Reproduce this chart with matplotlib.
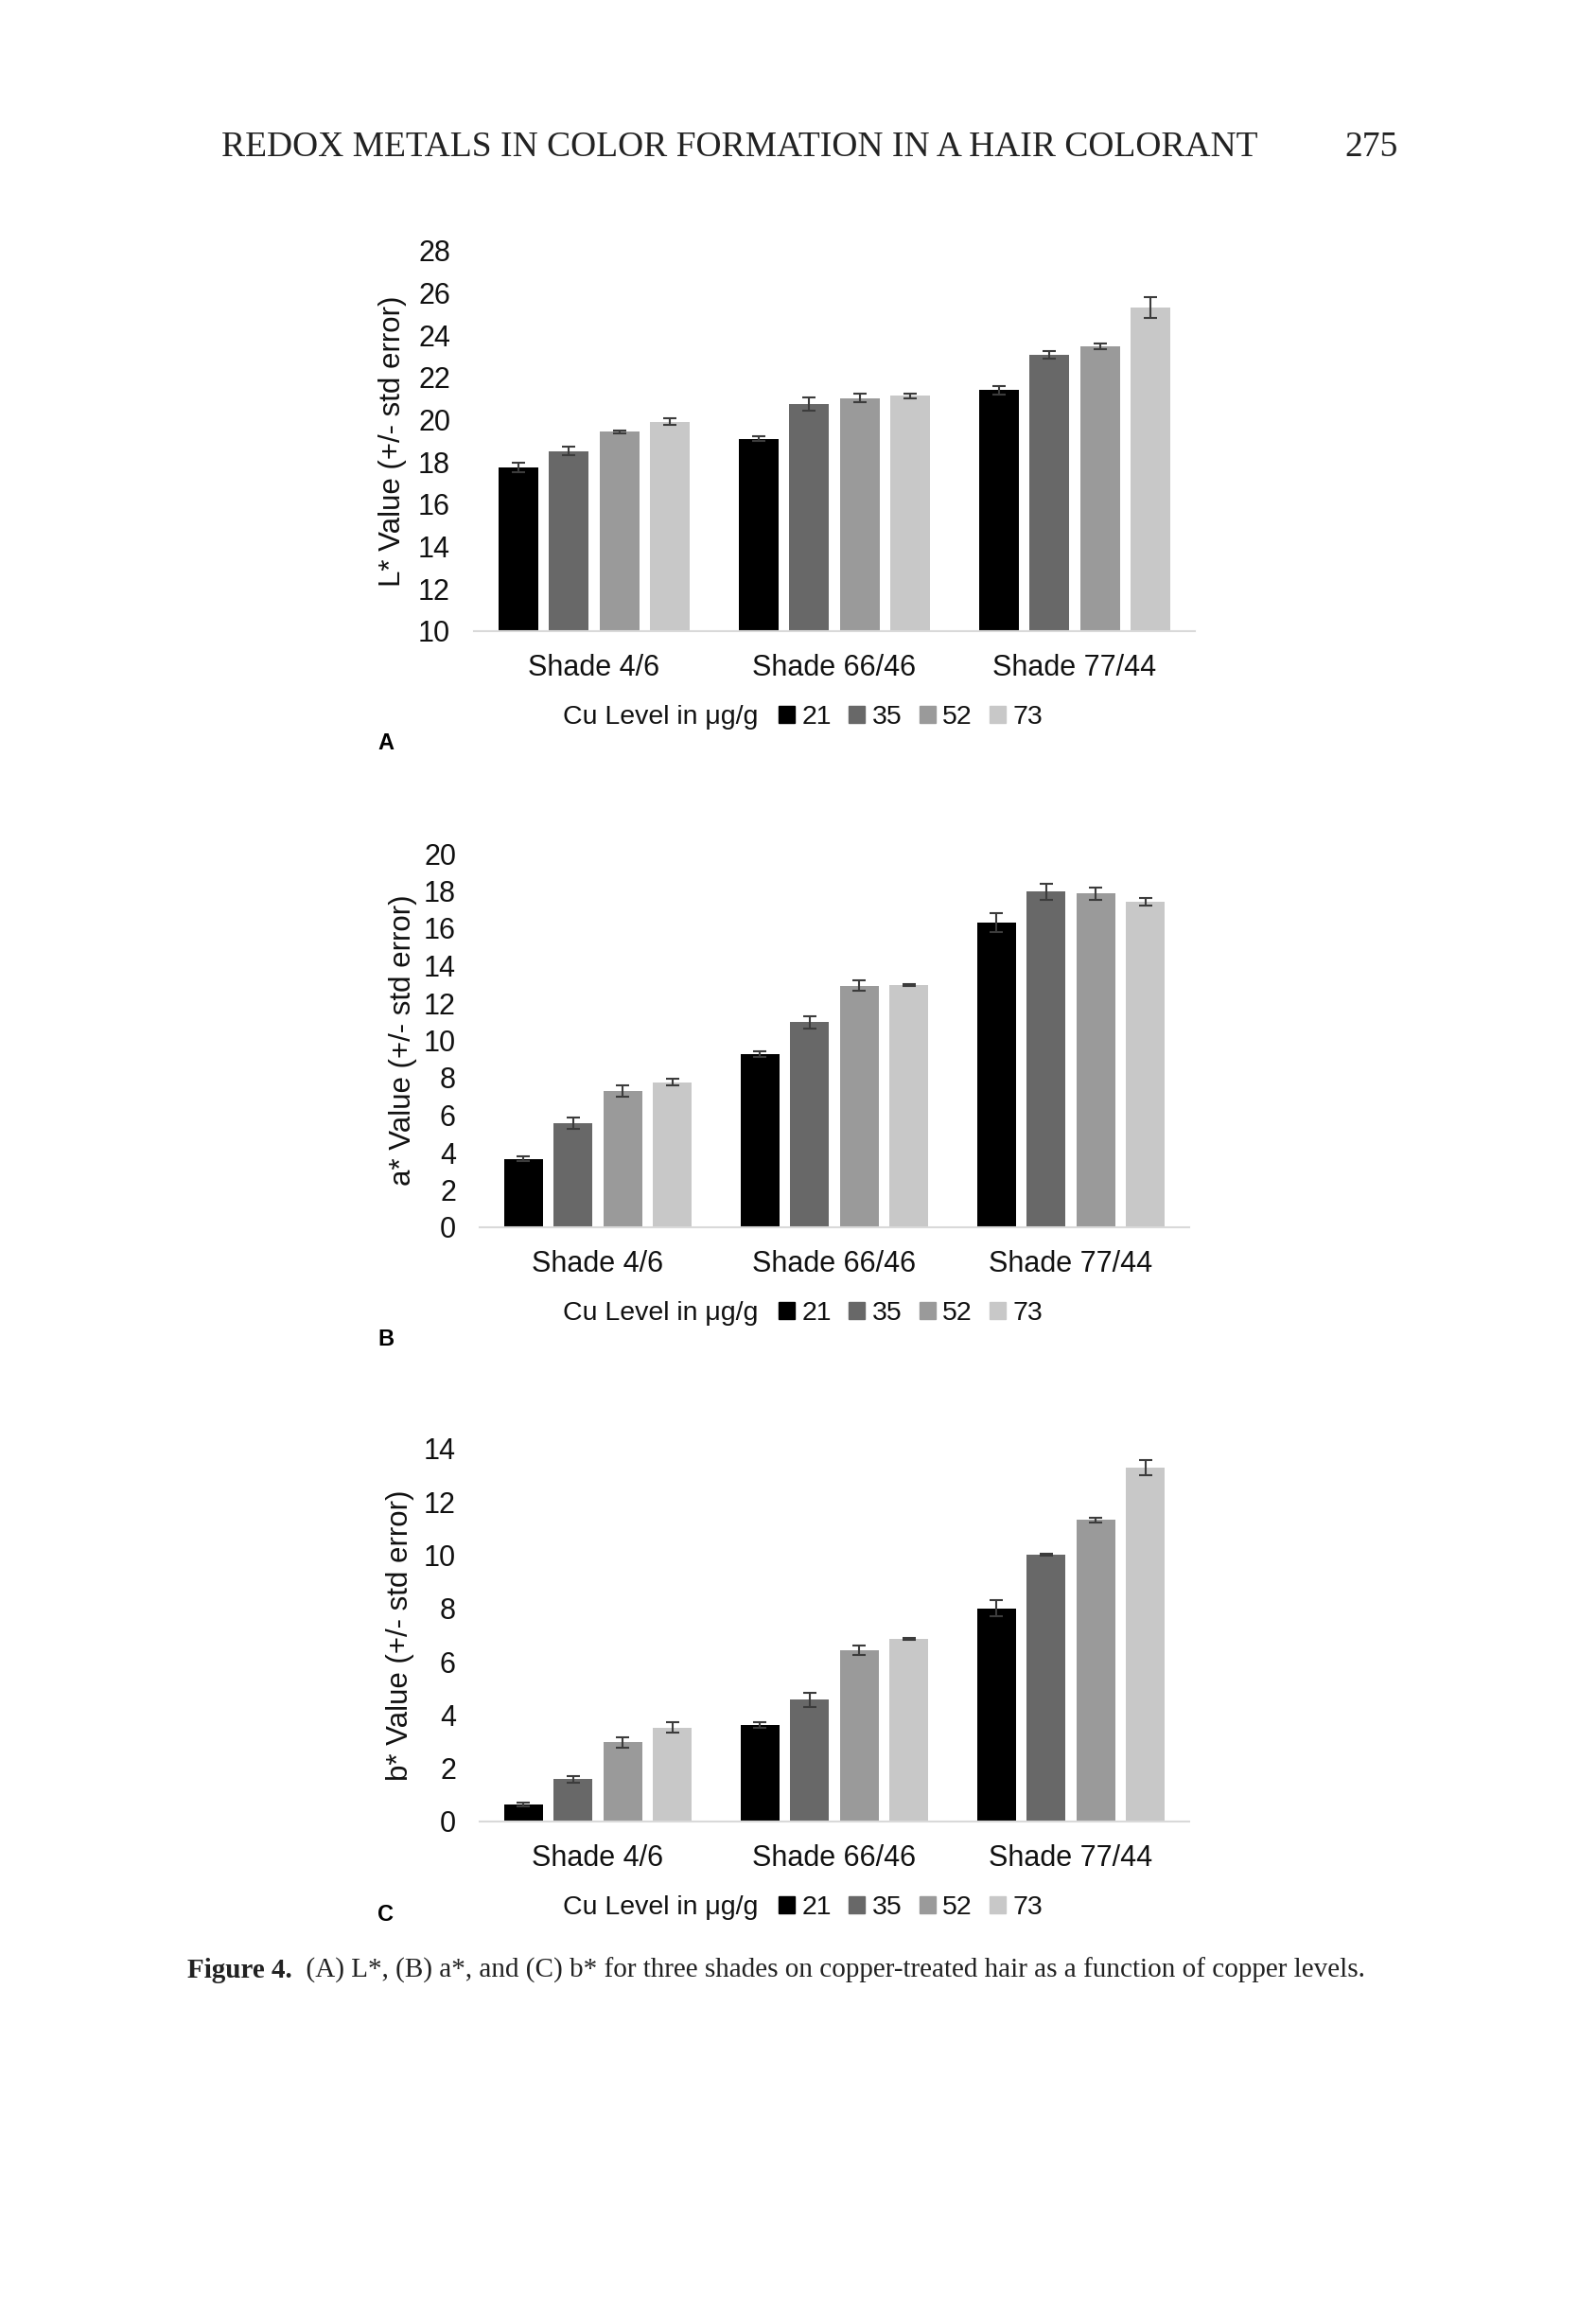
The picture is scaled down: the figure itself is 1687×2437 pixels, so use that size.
import numpy as np
import matplotlib.pyplot as plt
from matplotlib.patches import Patch

W, H = 1687, 2437

shades = ['Shade 4/6', 'Shade 66/46', 'Shade 77/44']
cu_levels = ['21', '35', '52', '73']
colors = ['#000000', '#686868', '#9a9a9a', '#c8c8c8']

# L* values, rows = Cu level, cols = shade
L_val = [[17.75, 19.11, 21.41],
         [18.52, 20.75, 23.07],
         [19.43, 21.03, 23.49],
         [19.91, 21.14, 25.31]]
L_err = [[0.22, 0.13, 0.20],
         [0.19, 0.30, 0.17],
         [0.05, 0.19, 0.14],
         [0.15, 0.12, 0.48]]

a_val = [[3.66, 9.25, 16.32],
         [5.55, 10.97, 17.97],
         [7.28, 12.92, 17.85],
         [7.76, 12.96, 17.41]]
a_err = [[0.14, 0.15, 0.50],
         [0.30, 0.34, 0.43],
         [0.30, 0.28, 0.32],
         [0.17, 0.05, 0.21]]

b_val = [[0.64, 3.63, 8.00],
         [1.59, 4.57, 10.02],
         [2.98, 6.44, 11.32],
         [3.53, 6.87, 13.29]]
b_err = [[0.08, 0.10, 0.30],
         [0.13, 0.27, 0.03],
         [0.20, 0.17, 0.10],
         [0.20, 0.03, 0.28]]

panels = [
    # values, errors, ylabel, ylim, ticks, letter, axes px (l, r, top, bottom), legend y, title right, letter y, ylabel x
    (L_val, L_err, 'L* Value (+/- std error)', (10, 28), np.arange(10, 29, 2), 'A',
     (501, 1263, 265, 667), 758, 801, 786, 415),
    (a_val, a_err, 'a* Value (+/- std error)', (0, 20), np.arange(0, 21, 2), 'B',
     (507, 1257, 902, 1297), 1388, 801, 1416, 426),
    (b_val, b_err, 'b* Value (+/- std error)', (0, 14), np.arange(0, 15, 2), 'C',
     (507, 1257, 1531, 1925), 2016, 801, 2024, 423),
]

plt.rcParams['font.family'] = ['Liberation Sans', 'DejaVu Sans']

fig = plt.figure(figsize=(W / 100, H / 100), dpi=100)

x = np.arange(len(shades))
step = 0.21
bw = 0.165

for vals, errs, ylab, ylim, ticks, letter, box, leg_y, title_r, let_y, ylab_x in panels:
    l, r, t, b = box
    ax = fig.add_axes([l / W, 1 - b / H, (r - l) / W, (b - t) / H])
    for j in range(4):
        ax.bar(x + (j - 1.5) * step, vals[j], bw, yerr=errs[j], color=colors[j],
               capsize=5, error_kw=dict(ecolor='#3c3c3c', elinewidth=1.5, capthick=1.5))
    ax.set_xlim(-0.5, 2.5)
    ax.set_ylim(*ylim)
    ax.set_yticks(ticks)
    ax.set_xticks(x)
    ax.set_xticklabels(shades)
    ax.tick_params(axis='both', length=0, labelsize=22, labelcolor='#111111')
    ax.tick_params(axis='y', pad=18)
    ax.tick_params(axis='x', pad=17)
    for s in ['top', 'right', 'left']:
        ax.spines[s].set_visible(False)
    ax.spines['bottom'].set_color('#d9d9d9')
    ax.spines['bottom'].set_linewidth(1.5)

    fig.text(ylab_x / W, 1 - (t + b) / 2 / H, ylab, rotation=90, ha='center', va='center',
             fontsize=22.5, color='#111111')

    # legend with inline title
    fig.text(title_r / W, 1 - leg_y / H, 'Cu Level in μg/g', ha='right', va='center',
             fontsize=20.5, color='#111111')
    handles = [Patch(color=c) for c in colors]
    fig.legend(handles, cu_levels, loc='center left', bbox_to_anchor=((title_r + 22) / W, 1 - leg_y / H),
               ncol=4, frameon=False, fontsize=20.5, handlelength=0.6, handleheight=0.6,
               handletextpad=0.25, columnspacing=0.65, borderpad=0, borderaxespad=0,
               labelcolor='#111111')

    fig.text(408 / W, 1 - let_y / H, letter, ha='center', va='center', fontsize=17, fontweight='bold')

# page header and caption
fig.text(234 / W, 1 - 156 / H, 'REDOX METALS IN COLOR FORMATION IN A HAIR COLORANT',
         ha='left', va='center', fontsize=27, family='Liberation Serif', color='#222222')
fig.text(1478 / W, 1 - 156 / H, '275', ha='right', va='center', fontsize=27,
         family='Liberation Serif', color='#222222')

cap1 = fig.text(198 / W, 1 - 2082 / H, 'Figure 4.', ha='left', va='center', fontsize=21,
                family='Liberation Serif', fontweight='bold', color='#222222')
fig.add_artist(plt.Annotation(
    '  (A) L*, (B) a*, and (C) b* for three shades on copper-treated hair as a function of copper levels.',
    xy=(1, 0), xycoords=cap1, ha='left', va='bottom', fontsize=21,
    family='Liberation Serif', color='#222222'))

fig.savefig('out.png', dpi=100)
